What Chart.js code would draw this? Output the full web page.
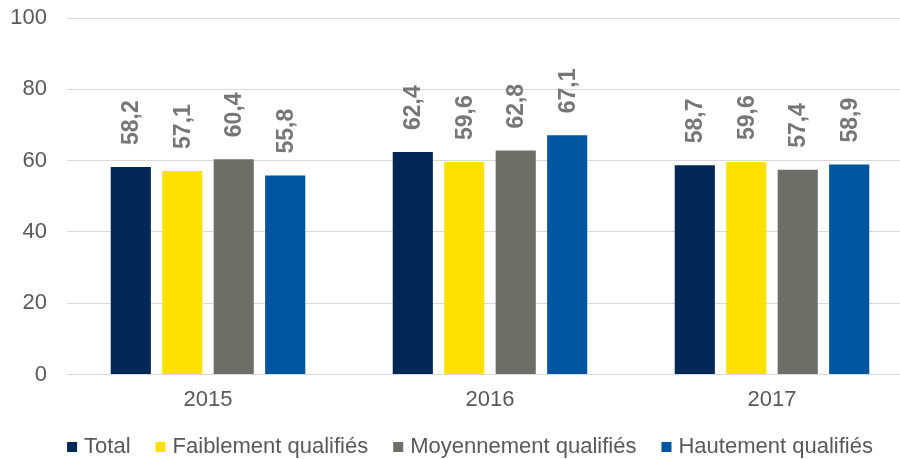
<!DOCTYPE html>
<html>
<head>
<meta charset="utf-8">
<script src="https://cdn.jsdelivr.net/npm/chart.js@4/dist/chart.umd.min.js"></script>
<style>
    html, body { margin: 0; padding: 0; background: #fff; overflow: hidden; }
    #wrap { width: 913px; height: 459px; position: relative; }
</style>
</head>
<body>
<div id="wrap"><canvas id="chartEmploi"></canvas></div>
<script>
// années et séries
const annees = ['2015', '2016', '2017'];
const total = [58.2, 62.4, 58.7];
const faibles = [57.1, 59.6, 59.6];
const moyens = [60.4, 62.8, 57.4];
const hauts = [55.8, 67.1, 58.9];
const yTicks = [0, 20, 40, 60, 80, 100];

const police = '"Liberation Sans", Arial, sans-serif';
const gris = '#595959';

// étiquettes de valeur verticales au-dessus des barres
const etiquettesBarres = {
    id: 'etiquettesBarres',
    afterDatasetsDraw(chart) {
        const ctx = chart.ctx;
        ctx.save();
        ctx.font = 'bold 23px ' + police;
        ctx.fillStyle = '#767676';
        ctx.textAlign = 'left';
        ctx.textBaseline = 'middle';
        chart.data.datasets.forEach((ds, i) => {
            chart.getDatasetMeta(i).data.forEach((bar, j) => {
                let txt = ds.data[j].toFixed(1).replace('.', ',');
                ctx.save();
                ctx.translate(bar.x + 1, bar.y - 22);
                ctx.rotate(-Math.PI / 2);
                ctx.fillText(txt, 0, 0);
                ctx.restore();
            });
        });
        ctx.restore();
    }
};

// légende en bas (carré collé au texte, comme dans Excel)
const legendeBas = {
    id: 'legendeBas',
    afterDraw(chart) {
        const ctx = chart.ctx;
        const carre = 10, ecart = 7, entre = 25;
        ctx.save();
        ctx.font = '22px ' + police;
        ctx.textBaseline = 'middle';
        ctx.textAlign = 'left';
        const items = chart.data.datasets.map(ds => ({
            label: ds.label,
            color: ds.backgroundColor,
            w: ctx.measureText(ds.label).width
        }));
        let largeur = items.reduce((s, it) => s + carre + ecart + it.w, 0) + entre * (items.length - 1);
        let x = 470 - largeur / 2;
        const y = 447;
        items.forEach(it => {
            ctx.fillStyle = it.color;
            ctx.fillRect(x, y - carre / 2, carre, carre);
            x += carre + ecart;
            ctx.fillStyle = gris;
            ctx.fillText(it.label, x, y);
            x += it.w + entre;
        });
        ctx.restore();
    }
};

new Chart(document.getElementById('chartEmploi'), {
    type: 'bar',
    data: {
        labels: annees,
        datasets: [
            { label: 'Total', data: total, backgroundColor: '#002856' },
            { label: 'Faiblement qualifiés', data: faibles, backgroundColor: '#FFE100' },
            { label: 'Moyennement qualifiés', data: moyens, backgroundColor: '#6E6E69' },
            { label: 'Hautement qualifiés', data: hauts, backgroundColor: '#0055A0' }
        ]
    },
    options: {
        responsive: true,
        maintainAspectRatio: false,
        animation: false,
        layout: { padding: { top: 18, left: 0, right: 0, bottom: 0 } },
        datasets: {
            bar: { categoryPercentage: 0.73, barPercentage: 0.78 }
        },
        scales: {
            x: {
                afterFit: axis => {
                    axis.height = 84.5; // place pour les années + la légende
                    axis.paddingLeft = 0;
                    axis.paddingRight = 0;
                },
                grid: { display: false, drawTicks: false },
                border: { color: '#D9D9D9' },
                ticks: {
                    color: gris,
                    padding: 12,
                    font: { size: 22, family: police }
                }
            },
            y: {
                min: 0,
                max: 100,
                afterBuildTicks: axis => { axis.ticks = yTicks.map(v => ({ value: v })); },
                afterFit: axis => {
                    axis.width = 67;
                    axis.paddingTop = 0;
                    axis.paddingBottom = 0;
                },
                grid: { color: '#D9D9D9', drawTicks: false },
                border: { display: false },
                ticks: {
                    color: gris,
                    padding: 20,
                    font: { size: 22, family: police }
                }
            }
        },
        plugins: {
            legend: { display: false },
            tooltip: { enabled: false }
        }
    },
    plugins: [etiquettesBarres, legendeBas]
});
</script>
</body>
</html>
